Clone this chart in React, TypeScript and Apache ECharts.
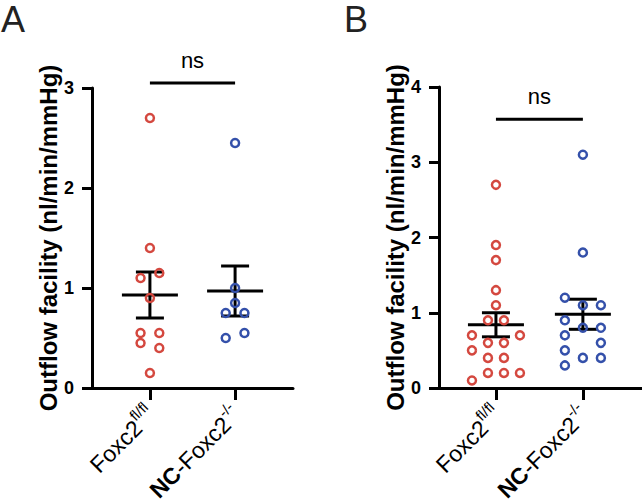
import React, { useEffect, useRef } from "react";
import * as echarts from "echarts";

// ---- data ----
const groupPos = [1, 2];
const xLabels = ["{n|Foxc2}{s|fl/fl}", "{b|NC}{n|-Foxc2}{s|-/-}"];
const yTitle = "Outflow facility (nl/min/mmHg)";

const redA_y = [2.7, 1.4, 1.15, 1.1, 0.9, 0.55, 0.55, 0.45, 0.4, 0.15];
const redA_dx = [0, 0, 0.11, -0.11, 0, -0.11, 0.11, -0.11, 0.11, 0];
const blueA_y = [2.45, 1.0, 0.85, 0.75, 0.75, 0.55, 0.5];
const blueA_dx = [0, 0, 0, -0.11, 0.11, 0.11, -0.11];

const redB_y = [2.7, 1.9, 1.7, 1.3, 1.1, 0.9, 0.9, 0.7, 0.7, 0.6, 0.6, 0.5, 0.4, 0.4, 0.2, 0.2, 0.2, 0.1];
const redB_dx = [0, 0, 0, 0, 0, -0.092, 0.092, -0.276, 0.276, -0.092, 0.092, -0.276, -0.092, 0.092, -0.092, 0.092, 0.276, -0.276];
const blueB_y = [3.1, 1.8, 1.2, 1.1, 1.1, 0.9, 0.8, 0.8, 0.7, 0.6, 0.5, 0.4, 0.4, 0.3];
const blueB_dx = [0, 0, -0.207, 0, 0.207, -0.207, 0, 0.207, -0.207, 0.207, -0.207, 0, 0.207, -0.207];

// [group, mean, semLow, semHigh]
const statsA = [
  [1, 0.93, 0.7, 1.16],
  [2, 0.97, 0.72, 1.22],
];
const statsB = [
  [1, 0.84, 0.68, 1.0],
  [2, 0.98, 0.78, 1.18],
];
// [x1, x2, barY, textY]
const sigA = [[1, 2, 3.05, 3.276]];
const sigB = [[1, 2, 3.57, 3.88]];

const RED = "#d4483f";
const BLUE = "#3450aa";
const FONT = "Liberation Sans, Arial, Helvetica, sans-serif";

function pts(ys: number[], dx: number[], g: number) {
  return ys.map((y, i) => [g + dx[i], y]);
}

export default function App() {
  const ref = useRef<HTMLDivElement>(null);
  useEffect(() => {
    if (!ref.current) return;
    const chart = echarts.init(ref.current, null, { renderer: "svg" });

    const mkX = (gi: number, min: number, max: number) => ({
      type: "value",
      gridIndex: gi,
      min,
      max,
      axisLine: { show: true, onZero: false, lineStyle: { color: "#000", width: 3 } },
      axisTick: { show: true, customValues: groupPos, length: 12, lineStyle: { color: "#000", width: 3 } },
      axisLabel: {
        show: true,
        customValues: groupPos,
        rotate: 45,
        margin: 21,
        hideOverlap: false,
        formatter: (v: number) => xLabels[groupPos.indexOf(Math.round(v))] || "",
        rich: {
          n: { fontSize: 23, fontFamily: FONT, color: "#000", lineHeight: 28, verticalAlign: "bottom" },
          b: { fontSize: 23, fontFamily: FONT, fontWeight: "bold", color: "#000", lineHeight: 28, verticalAlign: "bottom" },
          s: { fontSize: 15, fontFamily: FONT, color: "#000", lineHeight: 15, verticalAlign: "top" },
        },
      },
      splitLine: { show: false },
    });
    const mkY = (gi: number, max: number) => ({
      type: "value",
      gridIndex: gi,
      min: 0,
      max,
      interval: 1,
      name: yTitle,
      nameLocation: "middle",
      nameGap: 28,
      nameTextStyle: { fontSize: 24, fontWeight: "bold", fontFamily: FONT, color: "#000" },
      axisLine: { show: true, lineStyle: { color: "#000", width: 3 } },
      axisTick: { show: true, length: 10, lineStyle: { color: "#000", width: 3 } },
      axisLabel: { fontSize: 18, fontWeight: "bold", fontFamily: FONT, color: "#000", margin: 18 },
      splitLine: { show: false },
    });

    const statRender = (params: any, api: any) => {
      const g = api.value(0);
      const c = api.coord([g, api.value(1)]);
      const lo = api.coord([g, api.value(2)]);
      const hi = api.coord([g, api.value(3)]);
      const st = { stroke: "#000", lineWidth: 3 };
      return {
        type: "group",
        children: [
          { type: "line", shape: { x1: c[0] - 28, y1: c[1], x2: c[0] + 28, y2: c[1] }, style: st },
          { type: "line", shape: { x1: c[0], y1: lo[1], x2: c[0], y2: hi[1] }, style: st },
          { type: "line", shape: { x1: c[0] - 14, y1: lo[1], x2: c[0] + 14, y2: lo[1] }, style: st },
          { type: "line", shape: { x1: c[0] - 14, y1: hi[1], x2: c[0] + 14, y2: hi[1] }, style: st },
        ],
      };
    };
    const sigRender = (params: any, api: any) => {
      const p1 = api.coord([api.value(0), api.value(2)]);
      const p2 = api.coord([api.value(1), api.value(2)]);
      const t = api.coord([(api.value(0) + api.value(1)) / 2, api.value(3)]);
      return {
        type: "group",
        children: [
          { type: "line", shape: { x1: p1[0], y1: p1[1], x2: p2[0], y2: p2[1] }, style: { stroke: "#000", lineWidth: 3 } },
          {
            type: "text",
            x: t[0],
            y: t[1],
            style: { text: "ns", fill: "#000", font: `22px ${FONT}`, textAlign: "center", textVerticalAlign: "middle" },
          },
        ],
      };
    };

    const scatter = (gi: number, data: number[][], color: string) => ({
      type: "scatter",
      xAxisIndex: gi,
      yAxisIndex: gi,
      data,
      symbol: "circle",
      symbolSize: 8,
      itemStyle: { color: "rgba(0,0,0,0)", borderColor: color, borderWidth: 2.5, opacity: 1 },
      z: 5,
    });

    chart.setOption({
      animation: false,
      grid: [
        { left: 92, right: 349, top: 88, bottom: 116, outerBoundsMode: "none", containLabel: false },
        { left: 439, right: 0, top: 87, bottom: 116, outerBoundsMode: "none", containLabel: false },
      ],
      xAxis: [mkX(0, 0.32, 2.68), mkX(1, 0.345, 2.68)],
      yAxis: [mkY(0, 3), mkY(1, 4)],
      graphic: [
        { type: "text", x: 1, y: 1, style: { text: "A", font: `36px ${FONT}`, fill: "#222", textVerticalAlign: "top" } },
        { type: "text", x: 344, y: 1, style: { text: "B", font: `36px ${FONT}`, fill: "#222", textVerticalAlign: "top" } },
      ],
      series: [
        { type: "custom", xAxisIndex: 0, yAxisIndex: 0, data: statsA, renderItem: statRender, clip: false, z: 3 },
        { type: "custom", xAxisIndex: 1, yAxisIndex: 1, data: statsB, renderItem: statRender, clip: false, z: 3 },
        { type: "custom", xAxisIndex: 0, yAxisIndex: 0, data: sigA, renderItem: sigRender, clip: false, z: 3 },
        { type: "custom", xAxisIndex: 1, yAxisIndex: 1, data: sigB, renderItem: sigRender, clip: false, z: 3 },
        scatter(0, pts(redA_y, redA_dx, 1), RED),
        scatter(0, pts(blueA_y, blueA_dx, 2), BLUE),
        scatter(1, pts(redB_y, redB_dx, 1), RED),
        scatter(1, pts(blueB_y, blueB_dx, 2), BLUE),
      ],
    });
    return () => chart.dispose();
  }, []);
  return <div ref={ref} style={{ width: 642, height: 504, position: "absolute", left: 0, top: 0 }} />;
}
